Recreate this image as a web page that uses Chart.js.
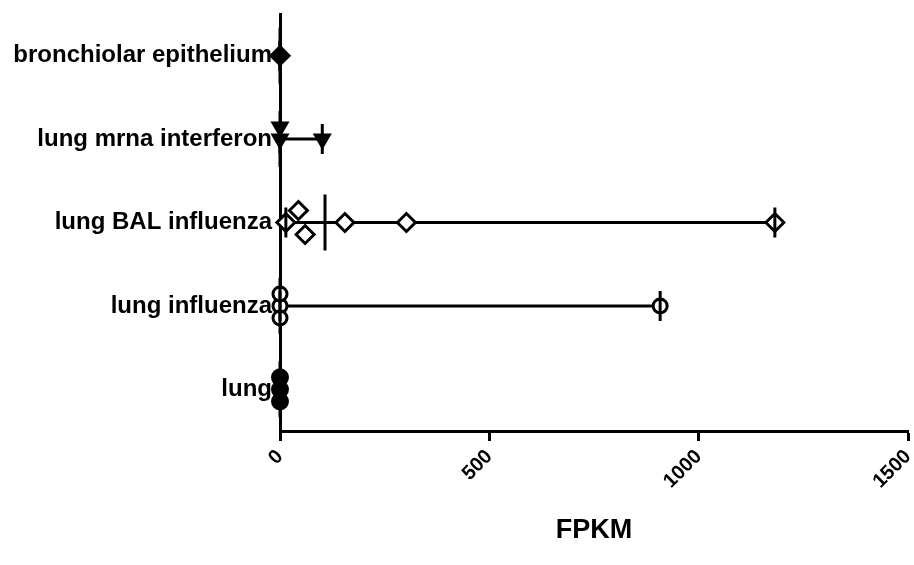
<!DOCTYPE html>
<html>
<head>
<meta charset="utf-8">
<script src="https://cdn.jsdelivr.net/npm/chart.js@4/dist/chart.umd.min.js"></script>
<style>
  html, body { margin: 0; padding: 0; background: #ffffff; }
  #wrap { width: 914px; height: 565px; position: relative; }
</style>
</head>
<body>
<div id="wrap"><canvas id="c" width="914" height="565"></canvas></div>
<script>
// Sample groups, top to bottom
const categories = [
  'bronchiolar epithelium',
  'lung mrna interferon',
  'lung BAL influenza',
  'lung influenza',
  'lung'
];

// FPKM values per sample group
const bronchiolarEpithelium = [0];
const lungMrnaInterferon = [0, 0, 101];
const lungBalInfluenza = [14, 44, 60, 155, 302, 1182];
const lungInfluenza = [0, 0, 0, 908];
const lung = [0, 0, 0];

const groupValues = [bronchiolarEpithelium, lungMrnaInterferon, lungBalInfluenza, lungInfluenza, lung];

const xTicks = [0, 500, 1000, 1500];
const xTitle = 'FPKM';

// Marker look for each group
const markerStyles = [
  { pointStyle: 'rectRot', radius: 9, fill: '#000000', rotation: 0 },
  { pointStyle: 'triangle', radius: 8, fill: '#000000', rotation: 180 },
  { pointStyle: 'rectRot', radius: 9, fill: '#ffffff', rotation: 0 },
  { pointStyle: 'circle', radius: 7, fill: '#ffffff', rotation: 0 },
  { pointStyle: 'circle', radius: 7.5, fill: '#000000', rotation: 0 }
];

const X_MAX = 1500;
const PLOT_W = 628;           // plot width in px
const BAND_H = 83.4;          // px per category band
const SLOT_PX = 12;           // vertical step between stacked markers
const COLLIDE_PX = 21;        // horizontal distance treated as overlap
const CAP_PX = 15;            // half height of range end caps
const MEDIAN_PX = 28;         // half height of median line

const slotUnit = SLOT_PX / BAND_H;
const collideUnits = COLLIDE_PX * X_MAX / PLOT_W;

// Stack overlapping markers above/below the group centre line
function stackOffsets(values) {
  const placed = [];
  const order = values.map((v, i) => i).sort((a, b) => values[a] - values[b]);
  const out = new Array(values.length);
  order.forEach(i => {
    const v = values[i];
    const tries = [0, -1, 1, -2, 2, -3, 3];
    for (const s of tries) {
      const clash = placed.some(p => p.slot === s && Math.abs(p.v - v) < collideUnits);
      if (!clash) { placed.push({ v, slot: s }); out[i] = s; break; }
    }
  });
  return out;
}

function median(arr) {
  const s = [...arr].sort((a, b) => a - b);
  const m = Math.floor(s.length / 2);
  return s.length % 2 ? s[m] : (s[m - 1] + s[m]) / 2;
}

const datasets = [];
groupValues.forEach((vals, ci) => {
  const lo = Math.min(...vals);
  const hi = Math.max(...vals);
  const med = median(vals);
  const capH = CAP_PX / BAND_H;
  const medH = MEDIAN_PX / BAND_H;
  const seg = (pts, width, order) => datasets.push({
    type: 'scatter', data: pts, showLine: true, borderColor: '#000000',
    borderWidth: width, pointRadius: 0, pointHoverRadius: 0, fill: false, order, clip: false
  });
  // range line under the markers
  seg([{ x: lo, y: ci }, { x: hi, y: ci }], 3, 3);
  // end caps and median on top
  seg([{ x: lo, y: ci - capH }, { x: lo, y: ci + capH }], 3, 0);
  seg([{ x: hi, y: ci - capH }, { x: hi, y: ci + capH }], 3, 0);
  seg([{ x: med, y: ci - medH }, { x: med, y: ci + medH }], 3, 0);
  // markers
  const slots = stackOffsets(vals);
  const st = markerStyles[ci];
  datasets.push({
    type: 'scatter',
    data: vals.map((v, k) => ({ x: v, y: ci + slots[k] * slotUnit })),
    pointStyle: st.pointStyle,
    pointRadius: st.radius,
    pointHoverRadius: st.radius,
    pointRotation: st.rotation,
    pointBackgroundColor: st.fill,
    pointBorderColor: '#000000',
    pointBorderWidth: 3,
    showLine: false,
    clip: false,
    order: 1
  });
});

const FONT = 'Liberation Sans, Arial, sans-serif';

new Chart(document.getElementById('c'), {
  type: 'scatter',
  data: { datasets },
  options: {
    responsive: false,
    animation: false,
    events: [],
    layout: { autoPadding: false, padding: { top: 14, right: 6, left: 0, bottom: 0 } },
    plugins: { legend: { display: false }, tooltip: { enabled: false } },
    scales: {
      x: {
        type: 'linear',
        min: 0,
        max: X_MAX,
        afterBuildTicks: s => { s.ticks = xTicks.map(v => ({ value: v })); },
        afterFit: s => { s.height = 134; s.paddingLeft = 0; s.paddingRight = 0; },
        grid: { display: true, drawOnChartArea: false, drawTicks: true, tickLength: 10, tickWidth: 3, tickColor: '#000000' },
        border: { display: true, color: '#000000', width: 3 },
        ticks: {
          color: '#000000',
          font: { family: FONT, weight: 'bold', size: 20 },
          minRotation: 45,
          maxRotation: 45,
          padding: 4,
          callback: v => String(v)
        },
        title: {
          display: true,
          text: xTitle,
          color: '#000000',
          font: { family: FONT, weight: 'bold', size: 27 },
          padding: { top: 0, bottom: 18 }
        }
      },
      y: {
        type: 'linear',
        reverse: true,
        min: -0.5,
        max: categories.length - 0.5,
        afterBuildTicks: s => { s.ticks = categories.map((_, i) => ({ value: i })); },
        afterFit: s => { s.width = 280; s.paddingTop = 0; s.paddingBottom = 0; },
        grid: { display: false, drawTicks: false },
        border: { display: true, color: '#000000', width: 3 },
        ticks: {
          color: '#000000',
          font: { family: FONT, weight: 'bold', size: 24 },
          padding: 8,
          callback: v => categories[v]
        }
      }
    }
  }
});
</script>
</body>
</html>
